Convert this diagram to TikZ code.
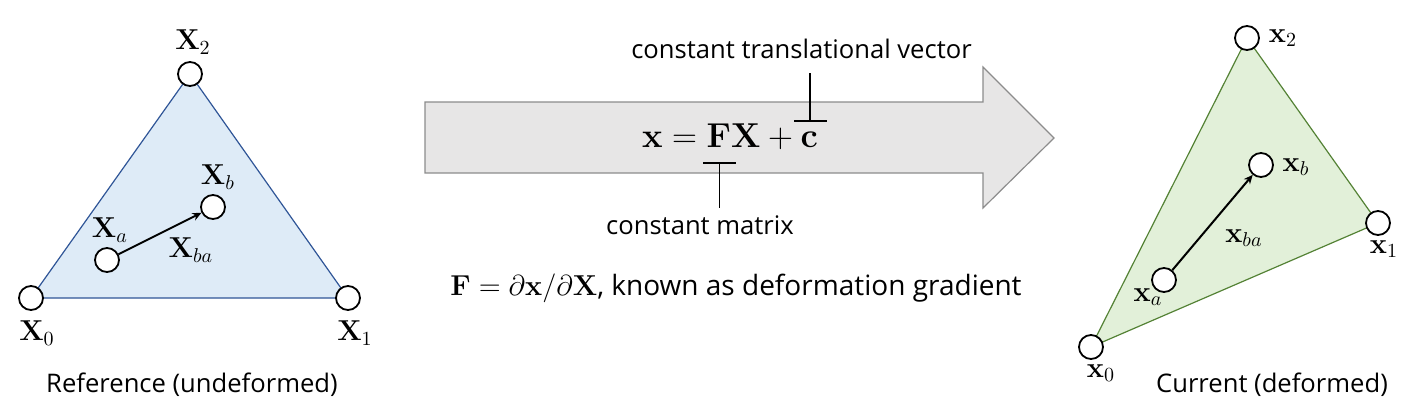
\documentclass[tikz,border=0pt]{standalone}
\usepackage[no-math]{fontspec}
\setmainfont{Open Sans}
\usetikzlibrary{arrows.meta}

\definecolor{reffill}{RGB}{222,235,247}
\definecolor{refedge}{RGB}{47,85,151}
\definecolor{curfill}{RGB}{226,240,217}
\definecolor{curedge}{RGB}{84,130,53}
\definecolor{mapfill}{RGB}{231,230,230}
\definecolor{mapedge}{RGB}{140,140,140}

\tikzset{
  pt/.style={circle, draw, fill=white, line width=0.9pt, minimum size=12pt, inner sep=0pt},
  lbl/.style={font=\fontsize{14.5}{17}\selectfont, inner sep=0pt},
  caption/.style={font=\fontsize{12.8}{15}\selectfont, inner sep=0pt},
  vec/.style={line width=1pt, -{Stealth[length=4.5pt, width=4pt]}},
  tick/.style={line width=0.6pt},
}

\begin{document}
\begin{tikzpicture}[x=0.5pt, y=-0.5pt]
    \useasboundingbox (0,0) rectangle (1419,413);

    % Reference (undeformed)
    \coordinate (P0) at (31,298);
    \coordinate (P1) at (348,298);
    \coordinate (P2) at (190,74);
    \fill[reffill] (P0) -- (P1) -- (P2) -- cycle;
    \draw[refedge, line width=0.6pt] (P0) -- (P1) -- (P2) -- cycle;
    \node[pt] (X0) at (P0) {};
    \node[pt] (X1) at (P1) {};
    \node[pt] (X2) at (P2) {};
    \node[pt] (Xa) at (107,260) {};
    \node[pt] (Xb) at (213,207) {};
    \draw[vec] (Xa) -- (Xb);

    \node[lbl] (lX0) at (37,333) {$\mathbf{X}_0$};
    \node[lbl] (lX1) at (355,333) {$\mathbf{X}_1$};
    \node[lbl] (lX2) at (193,42) {$\mathbf{X}_2$};
    \node[lbl] (lXa) at (110,230) {$\mathbf{X}_a$};
    \node[lbl] (lXb) at (218,177) {$\mathbf{X}_b$};
    \node[lbl] (lXba) at (191,250) {$\mathbf{X}_{ba}$};
    \node[caption] (refcap) at (192,385) {Reference (undeformed)};

    % Mapping arrow
    \draw[fill=mapfill, draw=mapedge, line width=0.6pt]
        (425,102) -- (983,102) -- (983,67) -- (1054,138) -- (983,208) -- (983,173) -- (425,173) -- cycle;
    \node[font=\fontsize{19}{23}\selectfont, inner sep=0pt] (map) at (730,137)
        {$\mathbf{x} = \mathbf{F}\mathbf{X} + \mathbf{c}$};

    % constant matrix
    \coordinate (Fl) at (703,163);
    \coordinate (Fr) at (736,163);
    \coordinate (Fm) at (719.5,163);
    \coordinate (Fend) at (719.5,208);
    \node[caption] (matrix) at (700,225) {constant matrix};
    \draw[tick] (Fl) -- (Fr);
    \draw[tick] (Fm) -- (Fend);

    % constant translational vector
    \coordinate (cl) at (794,121);
    \coordinate (cr) at (827,121);
    \coordinate (cm) at (810,121);
    \coordinate (cend) at (810,73);
    \node[caption] (transl) at (801.5,49) {constant translational vector};
    \draw[tick] (cl) -- (cr);
    \draw[tick] (cm) -- (cend);

    \node[font=\fontsize{14}{17}\selectfont, inner sep=0pt] (grad) at (736,288)
        {$\mathbf{F} = \partial\mathbf{x}/\partial\mathbf{X}$, known as deformation gradient};

    % Current (deformed)
    \coordinate (Q0) at (1091,347);
    \coordinate (Q1) at (1378,223);
    \coordinate (Q2) at (1247,38);
    \fill[curfill] (Q0) -- (Q1) -- (Q2) -- cycle;
    \draw[curedge, line width=0.6pt] (Q0) -- (Q1) -- (Q2) -- cycle;
    \node[pt] (x0) at (Q0) {};
    \node[pt] (x1) at (Q1) {};
    \node[pt] (x2) at (Q2) {};
    \node[pt] (xa) at (1164,280) {};
    \node[pt] (xb) at (1261,165) {};
    \draw[vec] (xa) -- (xb);

    \node[lbl] (lx0) at (1101,373) {$\mathbf{x}_0$};
    \node[lbl] (lx1) at (1384,249) {$\mathbf{x}_1$};
    \node[lbl] (lx2) at (1283,38) {$\mathbf{x}_2$};
    \node[lbl] (lxa) at (1148,297) {$\mathbf{x}_a$};
    \node[lbl] (lxb) at (1296,167) {$\mathbf{x}_b$};
    \node[lbl] (lxba) at (1244,238) {$\mathbf{x}_{ba}$};
    \node[caption] (curcap) at (1272,385) {Current (deformed)};
\end{tikzpicture}
\end{document}
